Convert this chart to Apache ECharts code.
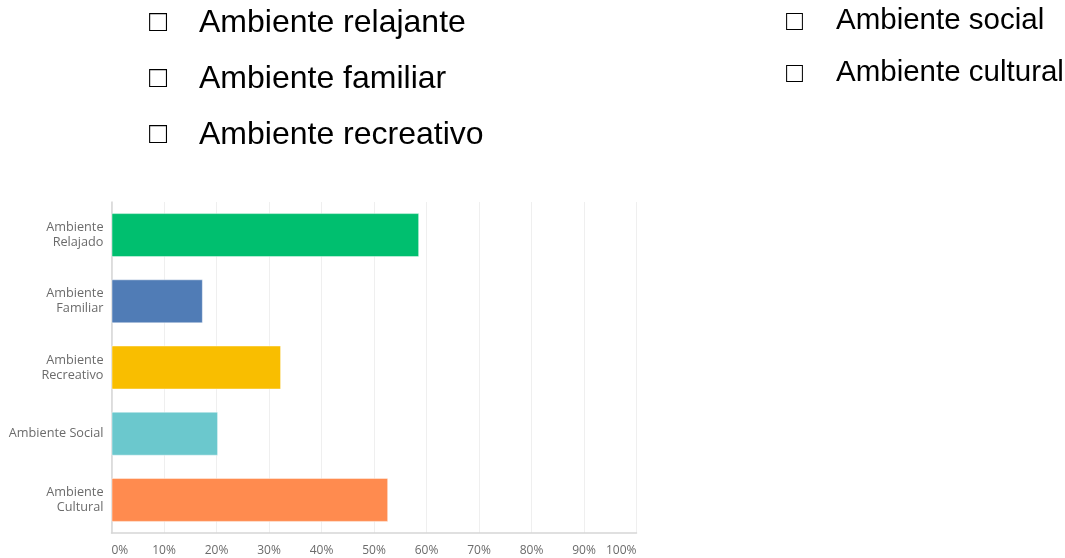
<!DOCTYPE html>
<html>
<head>
<meta charset="utf-8">
<script src="https://cdn.jsdelivr.net/npm/echarts@6/dist/echarts.min.js"></script>
<style>
  html, body { margin: 0; padding: 0; background: #fff; }
  #main { width: 1065px; height: 558px; }
</style>
</head>
<body>
<div id="main"></div>
<script>
// opciones de la pregunta (columna izquierda y derecha)
const leftOptions = ['Ambiente relajante', 'Ambiente familiar', 'Ambiente recreativo']
const rightOptions = ['Ambiente social', 'Ambiente cultural']

// datos del grafico
const categories = ['Ambiente\nRelajado', 'Ambiente\nFamiliar', 'Ambiente\nRecreativo', 'Ambiente Social', 'Ambiente\nCultural']
const percents = [58.6, 17.4, 32.3, 20.3, 52.7]
const barColors = ['#00bf6f', '#507cb6', '#f9be00', '#6bc8cd', '#ff8b4f']

const myChart = echarts.init(document.getElementById('main'), null, { renderer: 'canvas' })

// lista con casillas arriba
const graphics = []
leftOptions.forEach(function (txt, i) {
    graphics.push({
        type: 'text', left: 149, top: 8 + i * 56,
        style: { text: '\u25A1', fontFamily: 'Liberation Sans, Arial', fontSize: 30, fill: '#000' }
    })
    graphics.push({
        type: 'text', left: 199, top: 7 + i * 56,
        style: { text: txt, fontFamily: 'Liberation Sans, Arial', fontSize: 32, fill: '#000' }
    })
})
rightOptions.forEach(function (txt, i) {
    graphics.push({
        type: 'text', left: 786, top: 8 + i * 52,
        style: { text: '\u25A1', fontFamily: 'Liberation Sans, Arial', fontSize: 28, fill: '#000' }
    })
    graphics.push({
        type: 'text', left: 836, top: 6 + i * 52,
        style: { text: txt, fontFamily: 'Liberation Sans, Arial', fontSize: 29.5, fill: '#000' }
    })
})

const option = {
    backgroundColor: '#fff',
    animation: false,
    graphic: graphics,
    grid: { left: 111.5, right: 428.5, top: 202, bottom: 25, containLabel: false },
    xAxis: {
        type: 'value',
        min: 0,
        max: 100,
        interval: 10,
        axisLine: { show: true, lineStyle: { color: '#d6d6d6', width: 1.5 } },
        axisTick: { show: false },
        splitLine: { show: true, lineStyle: { color: '#efefef', width: 1 } },
        axisLabel: {
            formatter: '{value}%',
            color: '#6b6b6b',
            fontFamily: 'Open Sans',
            fontSize: 12,
            margin: 12,
            alignMinLabel: 'left',
            alignMaxLabel: 'right'
        }
    },
    yAxis: {
        type: 'category',
        data: categories,
        inverse: true,
        axisLine: { show: true, lineStyle: { color: '#d6d6d6', width: 1.5 } },
        axisTick: { show: false },
        axisLabel: {
            color: '#6b6b6b',
            fontFamily: 'Open Sans',
            fontSize: 12.7,
            lineHeight: 15,
            align: 'right',
            margin: 8
        }
    },
    series: [{
        type: 'bar',
        barWidth: 44,
        data: percents.map(function (v, i) {
            return {
                value: v,
                itemStyle: { color: barColors[i], borderColor: 'rgba(255,255,255,0.45)', borderWidth: 1 }
            }
        })
    }]
}

myChart.setOption(option)
</script>
</body>
</html>
